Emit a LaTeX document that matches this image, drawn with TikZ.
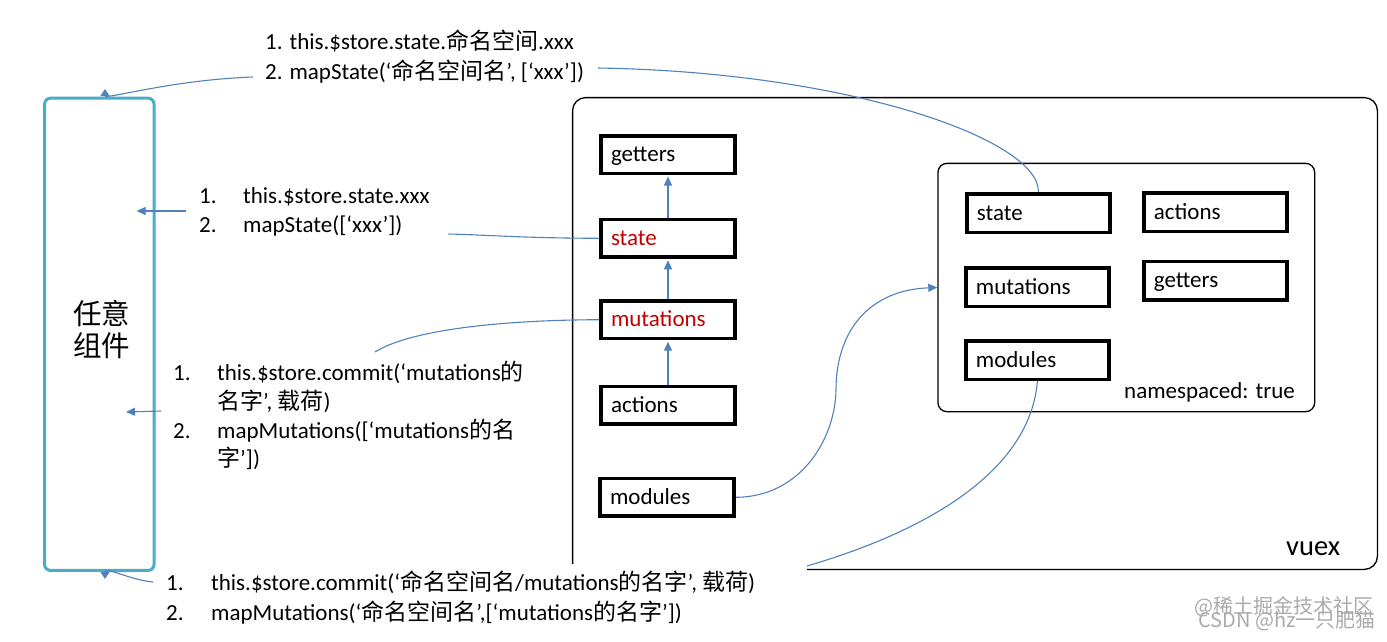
\documentclass[tikz,border=0pt]{standalone}
\usepackage{fontspec}
\setmainfont{Carlito}
\newfontfamily\cjk{Noto Sans CJK SC}
\newcommand{\zh}[1]{{\cjk #1}}
\usetikzlibrary{arrows.meta}
\definecolor{connc}{RGB}{79,129,189}
\definecolor{tealc}{RGB}{75,172,198}
\definecolor{redc}{RGB}{192,0,0}
\definecolor{wmc}{RGB}{170,170,170}
\begin{document}
\begin{tikzpicture}[x=1pt,y=-1pt,
  fnt/.style={font=\fontsize{23}{29}\selectfont},
  lbox/.style={draw, line width=3.5pt, minimum width=134pt, minimum height=37.5pt, text width=114pt, inner xsep=10pt, inner ysep=0pt, align=left, text height=17pt, text depth=2.6pt, fnt},
  ibox/.style={lbox, minimum width=143pt, minimum height=38.5pt, text width=123pt},
  txt/.style={anchor=base west, inner sep=0pt, fnt},
  conn/.style={draw=connc, line width=1.1pt},
  carrow/.style={conn, -{Triangle[length=9pt,width=8pt]}},
  varrow/.style={conn, -{Triangle[length=7pt,width=9pt]}},
  cjkbig/.style={anchor=base, inner sep=0pt, font=\fontsize{28.5}{32}\selectfont\cjk},
  wm/.style={anchor=center, inner sep=0pt, text=wmc, font=\fontsize{20}{24}\selectfont\cjk}
]
\useasboundingbox (0,0) rectangle (1387,641);

% component box
\node[draw=tealc, line width=3pt, rounded corners=6pt, minimum width=109.5pt, minimum height=472.3pt, inner sep=0pt] (comp) at (99.3,334.3) {};
\node[cjkbig] (compa) at (101.5,324) {任意};
\node[cjkbig] (compb) at (101.5,356) {组件};

% vuex outer box
\draw[line width=1.3pt, rounded corners=13pt] (807,569.4) -- (1377.4,569.4) -- (1377.4,97.6) -- (572.6,97.6) -- (572.6,564);
\node[anchor=base west, inner sep=0pt, font=\fontsize{28.5}{34}\selectfont] (vuex) at (1286,555) {vuex};

% left column
\node[lbox] (lget) at (668,154.5) {getters};
\node[lbox, text=redc] (lstate) at (668,238.3) {state};
\node[lbox, text=redc] (lmut) at (668,319.7) {mutations};
\node[lbox] (lact) at (668,405.3) {actions};
\node[lbox] (lmod) at (667,497.3) {modules};

% namespaced module
\node[draw, line width=1.3pt, rounded corners=9pt, minimum width=376.7pt, minimum height=248.3pt, inner sep=0pt] (ns) at (1126.3,287.5) {};
\node[ibox] (ist) at (1038.4,213) {state};
\node[ibox] (iact) at (1215.4,212.2) {actions};
\node[ibox] (imut) at (1037.4,287) {mutations};
\node[ibox] (iget) at (1215.4,280.5) {getters};
\node[ibox] (imod) at (1037.4,360.2) {modules};
\node[txt] (nsl) at (1124,398.5) {namespaced: true};

% texts
\node[txt] (t1a) at (265,49) {1. this.\$store.state.\zh{命名空间}.xxx};
\node[txt] (t1b) at (265,79) {2. mapState(‘\zh{命名空间名}’, [‘xxx’])};

\node[txt] (t2a) at (199,203) {\makebox[44pt][l]{1.}this.\$store.state.xxx};
\node[txt] (t2b) at (199,232) {\makebox[44pt][l]{2.}mapState([‘xxx’])};

\node[txt] (t3a) at (173,380) {\makebox[44pt][l]{1.}this.\$store.commit(‘mutations\zh{的}};
\node[txt] (t3b) at (217,409) {\zh{名字}’, \zh{载荷})};
\node[txt] (t3c) at (173,438) {\makebox[44pt][l]{2.}mapMutations([‘mutations\zh{的名}};
\node[txt] (t3d) at (217,466) {\zh{字}’])};

\node[txt] (t4a) at (166,590) {\makebox[45pt][l]{1.}this.\$store.commit(‘\zh{命名空间名}/mutations\zh{的名字}’, \zh{载荷})};
\node[txt] (t4b) at (166,620) {\makebox[45pt][l]{2.}mapMutations(‘\zh{命名空间名}’,[‘mutations\zh{的名字}’])};

% watermark
\node[wm] (wm1) at (1284,607) {@稀土掘金技术社区};
\node[wm] (wm2) at (1287,621) {CSDN @hz一只肥猫};

% connector end points
\coordinate (t1l) at (253,77);
\coordinate (t1r) at (598,68);
\coordinate (compTop) at (105,89);
\coordinate (t2l) at (185.6,211);
\coordinate (c2) at (136.6,211);
\coordinate (t2r) at (448.5,234);
\coordinate (t3l) at (161,411);
\coordinate (c3) at (126,412);
\coordinate (t3t) at (375,352);
\coordinate (t4l) at (153,582);
\coordinate (compBot) at (105,579);
\coordinate (t4r) at (807,566);
\coordinate (fmid) at (836,390);

% connectors
\draw[carrow, shorten >=1.5pt] (lstate.north) -- (lget.south);
\draw[carrow, shorten >=1.5pt] (lmut.north) -- (lstate.south);
\draw[carrow, shorten >=1.5pt] (lact.north) -- (lmut.south);

\draw[conn] (ist.north) .. controls (1040,140) and (850,72) .. (t1r);
\draw[varrow] (t1l) .. controls (170,80) and (105,100) .. (compTop);
\draw[carrow] (t2l) -- (c2);
\draw[conn] (lstate.west) .. controls (520,238) and (490,235) .. (t2r);
\draw[carrow] (t3l) -- (c3);
\draw[conn] (lmut.west) .. controls (500,320) and (410,330) .. (t3t);
\draw[conn] (imod.south) .. controls (1030,470) and (930,530) .. (t4r);
\draw[varrow] (t4l) .. controls (130,580) and (105,566) .. (compBot);
\draw[carrow] (lmod.east) .. controls (800,497) and (835,440) .. (fmid) .. controls (836,330) and (870,290) .. (ns.west);
\end{tikzpicture}
\end{document}
